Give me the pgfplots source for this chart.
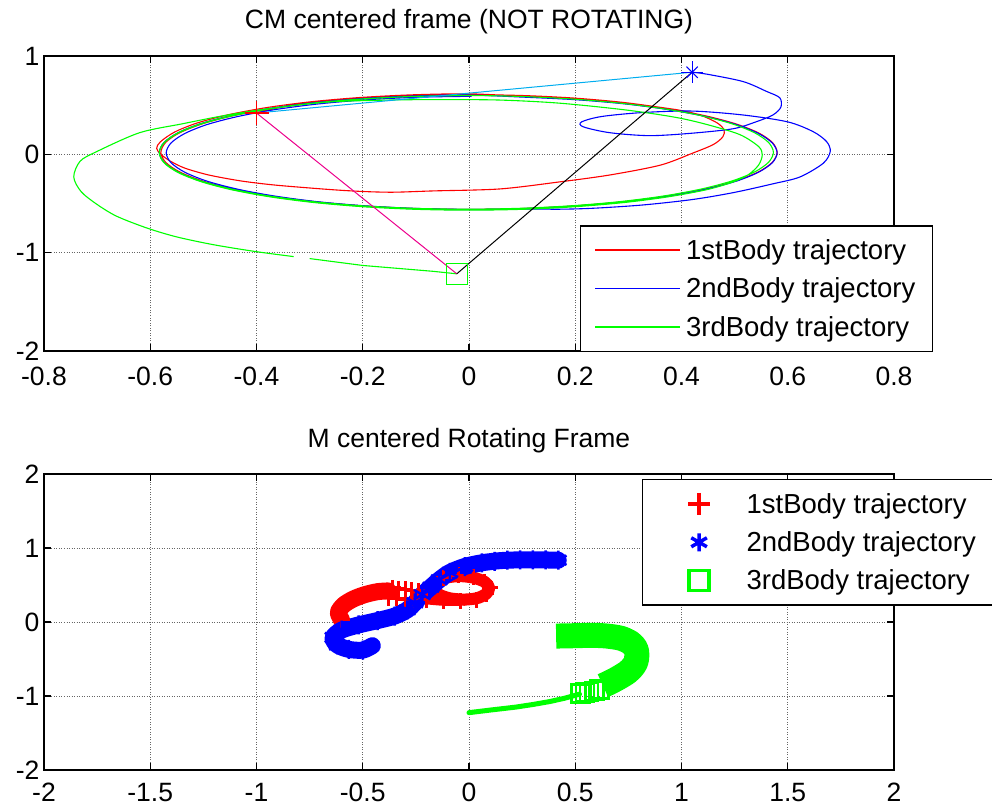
\documentclass[border=0pt]{standalone}
\usepackage{fontspec}
\setmainfont{Liberation Sans}
\usepackage{pgfplots}
\pgfplotsset{compat=1.18}

\newcommand{\mlfont}{\fontsize{26.5}{31}\selectfont}
\newcommand{\lgfont}{\fontsize{27.5}{32}\selectfont}

\pgfplotsset{
  matlab/.style={
    scale only axis, width=850pt,
    font=\mlfont,
    tick label style={font=\mlfont},
    /pgf/number format/assume math mode=true,
    xticklabel style={inner ysep=0pt, yshift=-13pt},
    yticklabel style={inner ysep=0pt, xshift=-1pt},
    axis line style={line width=1.2pt},
    tick style={line width=1.2pt, black},
    major tick length=7pt,
    grid=major,
    major grid style={line width=0.8pt, black!60, dash pattern=on 1pt off 1.5pt},
    title style={at={(0.5,1)}, anchor=base, yshift=21pt, font=\mlfont},
    legend cell align=left,
    legend style={draw=black, line width=1.2pt, fill=white, font=\lgfont,
      inner xsep=14pt, inner ysep=5pt, column sep=2pt,
      nodes={inner xsep=3pt, inner ysep=8.5pt}},
  },
}

\begin{document}
\begin{tikzpicture}
\useasboundingbox (0,0) rectangle (992pt,807pt);

% ---- top: CM centered frame ----
\begin{axis}[matlab, at={(44pt,456pt)}, anchor=south west, height=295pt,
  xmin=-0.8, xmax=0.8, ymin=-2, ymax=1,
  xtick={-0.8,-0.6,-0.4,-0.2,0,0.2,0.4,0.6,0.8}, ytick={-2,-1,0,1},
  xticklabel style={yshift=-3pt},
  title={CM centered frame (NOT ROTATING)},
  legend style={at={(0.6306,-0.003)}, anchor=south west},
  legend image code/.code={\draw[#1, line width=1.5pt] (0pt,0pt) -- (85pt,0pt);}]

\addplot[red, line width=1.1pt, smooth, tension=0.5] coordinates {
 (0,0.600) (-0.101,0.591) (-0.198,0.565) (-0.290,0.522) (-0.373,0.464) (-0.444,0.393)
 (-0.502,0.310) (-0.545,0.218) (-0.571,0.121) (-0.580,0.020) (-0.571,-0.081) (-0.545,-0.178)
 (-0.502,-0.270) (-0.444,-0.353) (-0.373,-0.424) (-0.290,-0.482) (-0.198,-0.525) (-0.101,-0.551)
 (0,-0.560) (0.101,-0.551) (0.198,-0.525) (0.290,-0.482) (0.373,-0.424) (0.444,-0.353)
 (0.502,-0.270) (0.545,-0.178) (0.571,-0.081) (0.580,0.020) (0.571,0.121) (0.545,0.218)
 (0.502,0.310) (0.444,0.393) (0.373,0.464) (0.290,0.522) (0.198,0.565) (0.101,0.591)
 (0,0.615) (-0.102,0.606) (-0.202,0.579) (-0.295,0.536) (-0.379,0.477) (-0.452,0.404)
 (-0.511,0.320) (-0.554,0.227) (-0.581,0.127) (-0.588,0.06) (-0.58,0.0) (-0.562,-0.07)
 (-0.535,-0.14) (-0.49,-0.21) (-0.43,-0.27) (-0.37,-0.31) (-0.305,-0.34) (-0.243,-0.365)
 (-0.19,-0.38) (-0.14,-0.385) (-0.067,-0.372) (0.058,-0.352) (0.171,-0.28) (0.265,-0.21)
 (0.36,-0.11) (0.42,0.01) (0.46,0.10) (0.478,0.18) (0.48,0.25) (0.467,0.32) (0.435,0.40)
 (0.40,0.445) (0.373,0.468) (0.290,0.528) (0.198,0.572) (0.101,0.598) (0,0.607)
 (-0.101,0.598) (-0.198,0.572) (-0.290,0.528) (-0.35,0.483) (-0.40,0.42)
};
\addplot[blue, line width=1.1pt, smooth, tension=0.5] coordinates {
 (0.005,0.590) (-0.095,0.581) (-0.192,0.555) (-0.283,0.513) (-0.365,0.455) (-0.435,0.385)
 (-0.493,0.303) (-0.535,0.212) (-0.561,0.115) (-0.570,0.015) (-0.561,-0.085) (-0.535,-0.182)
 (-0.493,-0.273) (-0.435,-0.355) (-0.365,-0.425) (-0.283,-0.483) (-0.192,-0.525) (-0.095,-0.551)
 (0.005,-0.560) (0.105,-0.551) (0.202,-0.525) (0.293,-0.483) (0.375,-0.425) (0.445,-0.355)
 (0.503,-0.273) (0.545,-0.182) (0.571,-0.085) (0.580,0.015) (0.571,0.115) (0.545,0.212)
 (0.503,0.303) (0.445,0.385) (0.375,0.455) (0.293,0.513) (0.202,0.555) (0.105,0.581)
 (0,0.603) (-0.101,0.594) (-0.199,0.568) (-0.292,0.525) (-0.375,0.467) (-0.447,0.395)
 (-0.505,0.312) (-0.548,0.219) (-0.574,0.121) (-0.583,0.020) (-0.574,-0.081) (-0.548,-0.179)
 (-0.505,-0.272) (-0.447,-0.355) (-0.375,-0.427) (-0.292,-0.485) (-0.199,-0.528) (-0.101,-0.554)
 (0,-0.563) (0.101,-0.556) (0.171,-0.558) (0.235,-0.548) (0.327,-0.515) (0.42,-0.46)
 (0.497,-0.39) (0.572,-0.30) (0.623,-0.23) (0.667,-0.09) (0.68,0.03) (0.673,0.13)
 (0.648,0.23) (0.60,0.33) (0.516,0.40) (0.42,0.44) (0.327,0.425) (0.25,0.385)
 (0.212,0.33) (0.215,0.28) (0.265,0.22) (0.34,0.19) (0.42,0.215) (0.497,0.26)
 (0.54,0.33) (0.572,0.40) (0.587,0.48) (0.585,0.575) (0.56,0.64) (0.516,0.74)
 (0.448,0.815) (0.42,0.835)
};
\addplot[green, line width=1.1pt, smooth, tension=0.5] coordinates {
 (-0.005,0.598) (-0.105,0.589) (-0.203,0.563) (-0.294,0.521) (-0.377,0.463) (-0.448,0.392)
 (-0.506,0.309) (-0.548,0.218) (-0.574,0.120) (-0.583,0.020) (-0.574,-0.080) (-0.548,-0.178)
 (-0.506,-0.269) (-0.448,-0.352) (-0.377,-0.423) (-0.294,-0.481) (-0.203,-0.523) (-0.105,-0.549)
 (-0.005,-0.558) (0.095,-0.549) (0.193,-0.523) (0.284,-0.481) (0.367,-0.423) (0.438,-0.352)
 (0.496,-0.269) (0.538,-0.178) (0.564,-0.080) (0.573,0.020) (0.564,0.120) (0.538,0.218)
 (0.496,0.309) (0.438,0.392) (0.367,0.463) (0.284,0.521) (0.193,0.563) (0.095,0.589)
 (0,0.598) (-0.101,0.589) (-0.199,0.563) (-0.292,0.520) (-0.375,0.462) (-0.447,0.390)
 (-0.505,0.307) (-0.548,0.214) (-0.574,0.116) (-0.583,0.015) (-0.574,-0.086) (-0.548,-0.184)
 (-0.505,-0.277) (-0.447,-0.360) (-0.375,-0.432) (-0.292,-0.490) (-0.199,-0.533) (-0.101,-0.559)
 (0,-0.568) (0.101,-0.559) (0.199,-0.533) (0.292,-0.490) (0.375,-0.432) (0.447,-0.360)
 (0.495,-0.285) (0.525,-0.21) (0.545,-0.11) (0.552,-0.005) (0.545,0.08) (0.51,0.20)
 (0.45,0.30) (0.39,0.375) (0.297,0.45) (0.171,0.52) (0.058,0.552) (-0.06,0.557)
 (-0.15,0.552) (-0.256,0.535) (-0.34,0.49) (-0.41,0.44) (-0.475,0.38) (-0.54,0.31)
 (-0.62,0.22) (-0.70,0.03) (-0.732,-0.07) (-0.744,-0.23) (-0.73,-0.38) (-0.70,-0.51)
 (-0.663,-0.63) (-0.606,-0.75) (-0.55,-0.84) (-0.48,-0.92) (-0.40,-0.99) (-0.33,-1.04)
};
\addplot[green, line width=1.1pt, forget plot] coordinates {
 (-0.30,-1.06) (-0.20,-1.13) (-0.067,-1.19) (-0.023,-1.215)
};
% bodies joined
\addplot[cyan, line width=1pt, forget plot] coordinates {(-0.40,0.42) (0.42,0.835)};
\addplot[magenta, line width=1pt, forget plot] coordinates {(-0.40,0.42) (-0.023,-1.215)};
\addplot[black, line width=1pt, forget plot] coordinates {(-0.023,-1.215) (0.42,0.835)};
% current positions
\addplot[red, only marks, mark=+, mark size=12pt, line width=1.2pt, forget plot] coordinates {(-0.40,0.42)};
\addplot[blue, only marks, mark=+, mark size=11pt, line width=1.1pt, forget plot] coordinates {(0.42,0.835)};
\addplot[blue, only marks, mark=x, mark size=8pt, line width=1.1pt, forget plot] coordinates {(0.42,0.835)};
\addplot[green, only marks, mark=square, mark size=10.5pt, line width=1pt, forget plot] coordinates {(-0.023,-1.215)};

\legend{1stBody trajectory, 2ndBody trajectory, 3rdBody trajectory}
\end{axis}

% ---- bottom: M centered rotating frame ----
\begin{axis}[matlab, at={(44pt,37pt)}, anchor=south west, height=296pt,
  xmin=-2, xmax=2, ymin=-2, ymax=2,
  xtick={-2,-1.5,-1,-0.5,0,0.5,1,1.5,2}, ytick={-2,-1,0,1,2},
  title={M centered Rotating Frame},
  legend style={at={(0.7035,0.983)}, anchor=north west},
  legend image code/.code={\path[draw=none, fill=none] (0pt,-8pt) rectangle (85pt,8pt);
    \draw[#1] plot coordinates {(42.5pt,0pt)};}]

% 1st body
\addplot[red, line width=17pt, line join=round, line cap=round, smooth, forget plot] coordinates {
 (-0.60,0.03) (-0.615,0.13) (-0.59,0.23) (-0.545,0.31) (-0.49,0.37) (-0.43,0.41) (-0.38,0.42)
};
\addplot[red, line width=12pt, line join=round, line cap=round, smooth, forget plot] coordinates {
 (-0.20,0.32) (-0.12,0.30) (-0.04,0.30) (0.035,0.32) (0.08,0.38) (0.095,0.46) (0.075,0.54)
 (0.02,0.60) (-0.05,0.62) (-0.12,0.59) (-0.16,0.52) (-0.165,0.44) (-0.14,0.37) (-0.09,0.32)
 (-0.02,0.30)
};
\addplot[red, only marks, mark=+, mark size=8pt, line width=3pt, forget plot] coordinates {
 (-0.60,0.03) (-0.615,0.13) (-0.59,0.23) (-0.545,0.31) (-0.49,0.37) (-0.43,0.41)
 (-0.36,0.46) (-0.33,0.45) (-0.30,0.44) (-0.27,0.43) (-0.24,0.42)
 (-0.38,0.33) (-0.34,0.32) (-0.30,0.31) (-0.26,0.30)
 (-0.20,0.30) (-0.12,0.28) (-0.04,0.28) (0.035,0.30) (0.08,0.38) (0.10,0.46) (0.075,0.54)
 (0.02,0.61) (-0.05,0.63) (-0.12,0.60)
};
% 2nd body
\addplot[blue, line width=17pt, line join=round, line cap=round, smooth, forget plot] coordinates {
 (0.42,0.835) (0.33,0.84) (0.24,0.84) (0.15,0.83) (0.06,0.80) (-0.02,0.75) (-0.09,0.67)
 (-0.14,0.57) (-0.18,0.47) (-0.22,0.37) (-0.255,0.26) (-0.29,0.165) (-0.35,0.08)
 (-0.43,0.02) (-0.52,-0.04) (-0.60,-0.11) (-0.64,-0.21) (-0.62,-0.31) (-0.565,-0.37)
 (-0.50,-0.38) (-0.455,-0.32)
};
\addplot[blue, only marks, mark=asterisk, mark size=9.5pt, line width=2.5pt, forget plot] coordinates {
 (0.42,0.835) (0.36,0.84) (0.30,0.84) (0.24,0.84) (0.18,0.835) (0.12,0.82) (0.06,0.80)
 (-0.02,0.75) (-0.09,0.67) (-0.14,0.57) (-0.18,0.47) (-0.22,0.37) (-0.255,0.26)
 (-0.29,0.165) (-0.35,0.08) (-0.43,0.02) (-0.52,-0.04) (-0.60,-0.11) (-0.64,-0.21)
 (-0.62,-0.31) (-0.565,-0.37) (-0.50,-0.38)
};
% 3rd body
\addplot[green, line width=5pt, line join=round, line cap=round, forget plot] coordinates {
 (0.0,-1.225) (0.1,-1.19) (0.22,-1.15) (0.30,-1.115) (0.38,-1.075) (0.45,-1.03) (0.52,-0.975)
};
\addplot[green, line width=25pt, line join=round, line cap=butt, smooth, forget plot] coordinates {
 (0.41,-0.19) (0.50,-0.185) (0.58,-0.18) (0.65,-0.19) (0.715,-0.22) (0.76,-0.28)
 (0.785,-0.36) (0.79,-0.45) (0.785,-0.54) (0.77,-0.61) (0.745,-0.68) (0.70,-0.76)
 (0.66,-0.82) (0.63,-0.86)
};
\addplot[green, only marks, mark=square, mark size=9pt, line width=2.5pt, forget plot] coordinates {
 (0.525,-0.965) (0.545,-0.955) (0.565,-0.945) (0.59,-0.93) (0.615,-0.91)
};

\addlegendimage{red, only marks, mark=+, mark size=11pt, line width=3.5pt}
\addlegendentry{1stBody trajectory}
\addlegendimage{blue, only marks, mark=asterisk, mark size=9pt, line width=3.5pt}
\addlegendentry{2ndBody trajectory}
\addlegendimage{green, only marks, mark=square, mark size=10pt, line width=3.5pt}
\addlegendentry{3rdBody trajectory}
\end{axis}
\end{tikzpicture}
\end{document}
